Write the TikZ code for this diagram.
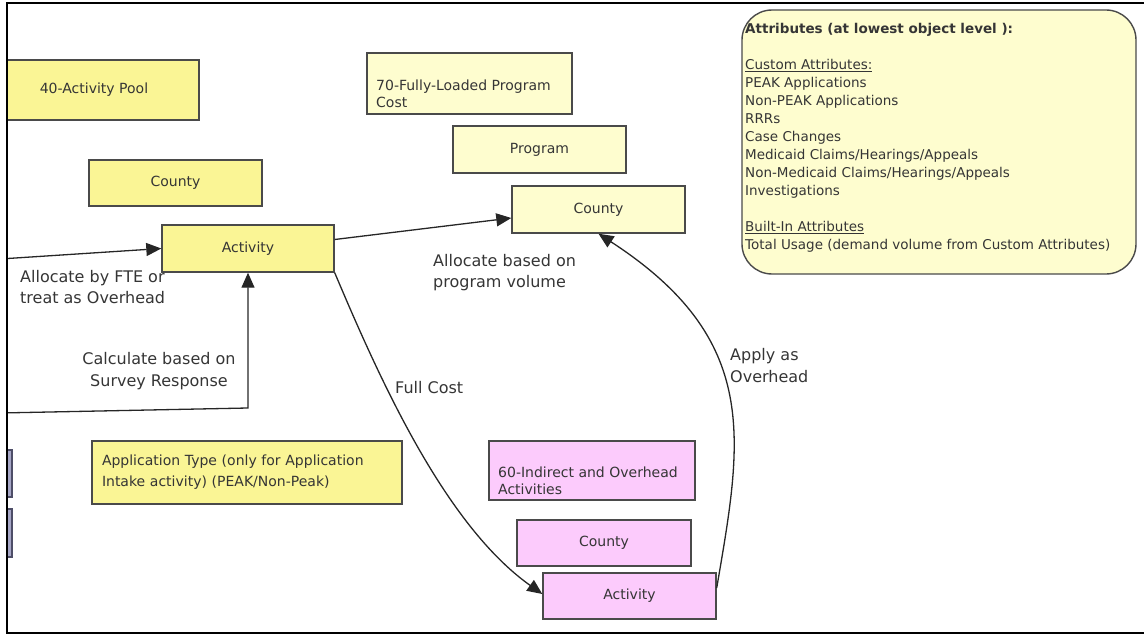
\documentclass[tikz,border=0pt]{standalone}
\usepackage{fontspec}
\setmainfont{DejaVu Sans}
\usetikzlibrary{arrows.meta,calc}

\definecolor{boxyellow}{HTML}{FAF595}
\definecolor{paleyellow}{HTML}{FEFDCF}
\definecolor{boxpink}{HTML}{FCCBFC}
\definecolor{boxedge}{HTML}{4A4A4A}
\definecolor{inktext}{HTML}{353535}
\definecolor{sidebox}{HTML}{A6A6C6}
\definecolor{sideedge}{HTML}{4E4E68}

\tikzset{
  objbox/.style={draw=boxedge, line width=1.4pt, inner sep=0pt, text=inktext,
    font=\fontsize{14}{17}\selectfont},
  yelbox/.style={objbox, fill=boxyellow},
  palebox/.style={objbox, fill=paleyellow},
  pinkbox/.style={objbox, fill=boxpink},
  boxsize/.style 2 args={minimum width=#1pt, minimum height=#2pt},
  boxtext/.style={anchor=west, align=left, inner sep=0pt, text=inktext,
    font=\fontsize{14}{17}\selectfont},
  conn/.style={draw=black!85, line width=1.3pt, -{Triangle[length=15pt,width=13pt]}},
  lbl/.style={text=inktext, font=\fontsize{16}{21.5}\selectfont, inner sep=0pt},
}

\begin{document}
\begin{tikzpicture}[x=1pt,y=-1pt]
\useasboundingbox (0,0) rectangle (1144,634);

\begin{scope}
  \clip (7,0) rectangle (1144,634);

  % connector labels (drawn first, boxes sit on top)
  \node[lbl, align=left, anchor=west] (lblfte) at (20,287) {Allocate by FTE or\\treat as Overhead};
  \node[lbl, align=center] (lblsrv) at (159,371) {Calculate based on\\Survey Response};
  \node[lbl, align=left, anchor=west] (lblvol) at (433,272.5) {Allocate based on\\program volume};
  \node[lbl, anchor=west] (lblfull) at (395,388) {Full Cost};
  \node[lbl, align=left, anchor=west] (lblovh) at (730,365.5) {Apply as\\Overhead};

  % 40 - activity pool dimension
  \node[yelbox, boxsize={210}{60}] (pool) at (94,90) {40-Activity Pool};
  \node[yelbox, boxsize={173}{46}] (cty1) at (175.5,183) {County};
  \node[yelbox, boxsize={172}{47}] (act1) at (248,248.5) {Activity};

  % 70 - fully-loaded program cost dimension
  \node[palebox, boxsize={205}{61}] (flp) at (469.5,83.5) {};
  \node[boxtext] (flptxt) at (376,93.5) {70-Fully-Loaded Program\\Cost};
  \node[palebox, boxsize={173}{47}] (prog) at (539.5,149.5) {Program};
  \node[palebox, boxsize={173}{47}] (cty2) at (598.5,209.5) {County};

  % attribute list
  \node[palebox, rounded corners=30pt, boxsize={394}{264}] (attr) at (939,142) {};
  \node[anchor=north west, inner sep=0pt, align=left, text=inktext,
        font=\fontsize{13.5}{18}\selectfont] (attrtxt) at (745,23)
    {\textbf{Attributes (at lowest object level ):}\\[18pt]
     \underline{Custom Attributes:}\\
     PEAK Applications\\
     Non-PEAK Applications\\
     RRRs\\
     Case Changes\\
     Medicaid Claims/Hearings/Appeals\\
     Non-Medicaid Claims/Hearings/Appeals\\
     Investigations\\[18pt]
     \underline{Built-In Attributes}\\
     Total Usage (demand volume from Custom Attributes)};

  % application type attribute
  \node[yelbox, boxsize={310}{63}, text width=290pt, align=left,
        font=\fontsize{14}{21}\selectfont] (app) at (247,472.5)
    {Application Type (only for Application\\Intake activity) (PEAK/Non-Peak)};

  % 60 - indirect and overhead activities dimension
  \node[pinkbox, boxsize={206}{59}] (ind) at (592,470.5) {};
  \node[boxtext] (indtxt) at (498,480.5) {60-Indirect and Overhead\\Activities};
  \node[pinkbox, boxsize={174}{46}] (cty3) at (604,543) {County};
  \node[pinkbox, boxsize={173}{46}] (act3) at (629.5,596) {Activity};

  % boxes running in from the left edge
  \node[draw=sideedge, fill=sidebox, line width=1.4pt, inner sep=0pt,
        boxsize={40}{47}] (sideA) at (-8,473.5) {};
  \node[draw=sideedge, fill=sidebox, line width=1.4pt, inner sep=0pt,
        boxsize={40}{48}] (sideB) at (-8,533) {};

  % connectors
  \coordinate (fteIn) at (0,259);
  \coordinate (srvIn) at (0,413);
  \coordinate (srvBend) at (248,408);
  \draw[conn] (fteIn) -- (act1.west);
  \draw[conn] (srvIn) -- (srvBend) -- (act1.south);
  \draw[conn] ([yshift=9pt]act1.east) -- ([yshift=-8.5pt]cty2.west);
  \draw[conn] (act1.south east) .. controls (380,380) and (445,525) .. ([yshift=2pt]act3.west);
  \draw[conn] ([yshift=8pt]act3.east) .. controls (742,440) and (762,340) .. (cty2.south);
\end{scope}

% page frame
\draw[line width=2pt, black] (1150,3) -- (7,3) -- (7,632.5) -- (1150,632.5);
\end{tikzpicture}
\end{document}
